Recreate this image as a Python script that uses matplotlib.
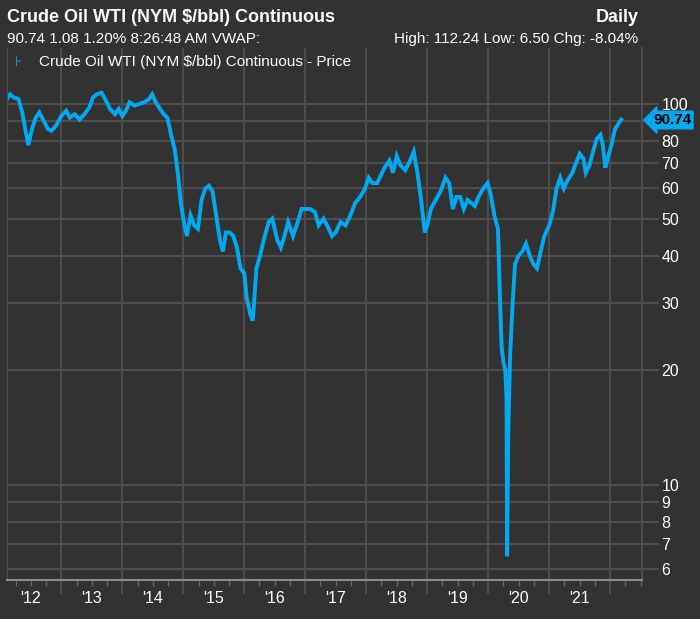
import numpy as np
import matplotlib
matplotlib.use('Agg')
import matplotlib.pyplot as plt
from matplotlib.ticker import FixedLocator, NullFormatter

plt.rcParams['font.family'] = ['Liberation Sans', 'DejaVu Sans']

# crude oil WTI (decimal year, price)
data = [
    (2012.11, 103), (2012.16, 106), (2012.22, 104), (2012.30, 103), (2012.36, 95),
    (2012.42, 84), (2012.46, 78), (2012.52, 86), (2012.58, 92), (2012.64, 95),
    (2012.70, 91), (2012.78, 86), (2012.84, 85), (2012.92, 88), (2013.00, 93),
    (2013.08, 96), (2013.14, 92), (2013.22, 94), (2013.30, 91), (2013.38, 94),
    (2013.46, 98), (2013.52, 104), (2013.58, 106), (2013.66, 107), (2013.72, 103),
    (2013.80, 97), (2013.88, 94), (2013.94, 97), (2014.00, 93), (2014.06, 96),
    (2014.12, 101), (2014.20, 99), (2014.28, 100), (2014.36, 101), (2014.44, 103),
    (2014.49, 106), (2014.55, 101), (2014.62, 97), (2014.68, 94), (2014.74, 92),
    (2014.80, 83), (2014.86, 76), (2014.91, 66), (2014.96, 55), (2015.02, 48),
    (2015.06, 45), (2015.12, 51), (2015.18, 48), (2015.24, 47), (2015.30, 56),
    (2015.36, 60), (2015.42, 61), (2015.48, 59), (2015.54, 51), (2015.60, 44),
    (2015.65, 41), (2015.70, 46), (2015.76, 46), (2015.82, 45), (2015.88, 42),
    (2015.94, 37), (2016.00, 36), (2016.04, 31), (2016.10, 28), (2016.14, 27),
    (2016.20, 37), (2016.26, 40), (2016.32, 44), (2016.40, 49), (2016.46, 50),
    (2016.54, 44), (2016.60, 42), (2016.66, 45), (2016.72, 49), (2016.80, 45),
    (2016.86, 48), (2016.94, 53), (2017.00, 53), (2017.08, 53), (2017.16, 52),
    (2017.22, 48), (2017.30, 50), (2017.36, 48), (2017.44, 45), (2017.50, 46),
    (2017.58, 49), (2017.66, 48), (2017.74, 51), (2017.82, 55), (2017.90, 57),
    (2017.98, 60), (2018.04, 64), (2018.10, 62), (2018.18, 62), (2018.24, 65),
    (2018.30, 68), (2018.38, 71), (2018.44, 66), (2018.50, 73), (2018.56, 69),
    (2018.64, 67), (2018.72, 71), (2018.78, 75), (2018.84, 66), (2018.90, 56),
    (2018.96, 46), (2019.00, 48), (2019.06, 53), (2019.14, 56), (2019.22, 59),
    (2019.30, 64), (2019.36, 62), (2019.42, 53), (2019.48, 57), (2019.54, 57),
    (2019.60, 53), (2019.66, 56), (2019.72, 55), (2019.78, 54), (2019.84, 57),
    (2019.92, 60), (2019.99, 62), (2020.04, 58), (2020.10, 51), (2020.16, 47),
    (2020.19, 32), (2020.22, 23), (2020.25, 21), (2020.28, 20), (2020.30, 17),
    (2020.31, 6.5), (2020.33, 14), (2020.36, 22), (2020.40, 30), (2020.44, 38),
    (2020.50, 40), (2020.56, 41), (2020.62, 43), (2020.68, 40), (2020.74, 38),
    (2020.80, 37), (2020.86, 41), (2020.92, 45), (2021.00, 48), (2021.06, 52),
    (2021.12, 60), (2021.18, 64), (2021.24, 60), (2021.30, 63), (2021.38, 66),
    (2021.44, 70), (2021.50, 74), (2021.56, 72), (2021.60, 66), (2021.66, 69),
    (2021.72, 75), (2021.78, 81), (2021.84, 83), (2021.88, 78), (2021.92, 68),
    (2021.96, 72), (2022.02, 78), (2022.08, 86), (2022.14, 89), (2022.18, 91),
]
x = np.array([d[0] for d in data])
y = np.array([d[1] for d in data])

bg = '#323232'
blue = '#03a9f0'
grid = '#4d4d4d'

fig = plt.figure(figsize=(7, 6.19), dpi=100, facecolor=bg)
ax = fig.add_axes([0.01, 0.063, 0.907, 0.859], facecolor=bg)
ax.plot(x, y, color=blue, lw=2.8, solid_joinstyle='miter')
ax.set_yscale('log')
ax.set_ylim(5.63, 140)
ax.set_xlim(2012.11, 2022.52)

yt = [6, 7, 8, 9, 10, 20, 30, 40, 50, 60, 70, 80, 90, 100]
ax.yaxis.set_major_locator(FixedLocator(yt))
ax.yaxis.set_minor_locator(FixedLocator([]))
ax.set_yticklabels([str(v) if v != 90 else '' for v in yt])
ax.yaxis.tick_right()
ax.tick_params(axis='y', colors='white', labelsize=11.5, length=12, width=1.5,
               color=grid, pad=2, labelcolor='white')

years = list(range(2013, 2023))
ax.xaxis.set_major_locator(FixedLocator(years))
ax.xaxis.set_major_formatter(NullFormatter())
ax.xaxis.set_minor_locator(FixedLocator([y0 + 0.25 * k for y0 in range(2012, 2023) for k in (1, 2, 3)]))
ax.tick_params(axis='x', which='major', length=10, width=1.5, color=grid)
ax.tick_params(axis='x', which='minor', length=4, width=1, color='#666666')
for yr in range(2012, 2022):
    ax.text(yr + 0.5, -0.035, "'" + str(yr)[2:], transform=ax.get_xaxis_transform(),
            ha='center', va='center', color='white', fontsize=11.5)

ax.grid(True, which='major', color=grid, lw=1.5)
for s in ['top', 'left']:
    ax.spines[s].set_visible(False)
ax.spines['right'].set_color(grid)
ax.spines['right'].set_linewidth(1.5)
ax.spines['bottom'].set_color('#8a8a8a')
ax.spines['bottom'].set_linewidth(1.5)
ax.axvline(2012.11, color=grid, lw=1.5)

# legend-like label
ax.text(0.012, 0.975, '\u22a6', transform=ax.transAxes, color=blue, fontsize=10,
        va='center', family='DejaVu Sans')
ax.text(0.05, 0.975, 'Crude Oil WTI (NYM $/bbl) Continuous - Price', transform=ax.transAxes,
        color='white', fontsize=11, va='center')

# last price tag
ax.annotate('90.74', xy=(1.0, 90.74), xycoords=('axes fraction', 'data'),
            xytext=(8, 0), textcoords='offset points', va='center', ha='left',
            fontsize=11, fontweight='bold', color='black',
            bbox=dict(boxstyle='larrow,pad=0.12', fc=blue, ec=blue))

fig.text(0.01, 0.972, 'Crude Oil WTI (NYM $/bbl) Continuous', color='white',
         fontsize=13, fontweight='bold', va='center')
fig.text(0.912, 0.972, 'Daily', color='white', fontsize=13, fontweight='bold',
         va='center', ha='right')
fig.text(0.01, 0.937, '90.74 1.08 1.20% 8:26:48 AM VWAP:', color='white',
         fontsize=11, va='center')
fig.text(0.912, 0.937, 'High: 112.24 Low: 6.50 Chg: -8.04%', color='white',
         fontsize=11, va='center', ha='right')

fig.savefig('out.png', dpi=100, facecolor=bg)
